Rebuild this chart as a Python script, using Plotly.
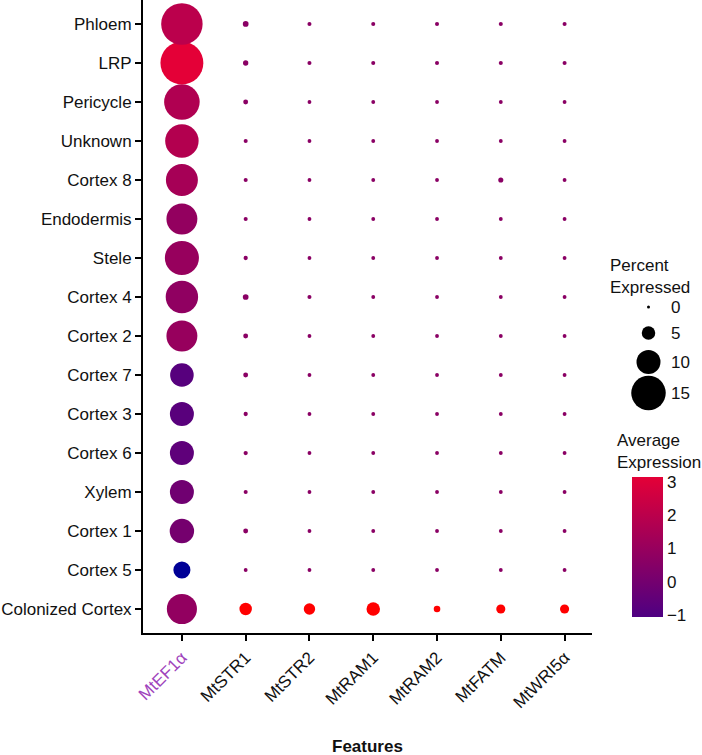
import plotly.graph_objects as go

# cell clusters, bottom to top
clusters = ["Colonized Cortex", "Cortex 5", "Cortex 1", "Xylem", "Cortex 6", "Cortex 3",
            "Cortex 7", "Cortex 2", "Cortex 4", "Stele", "Endodermis", "Cortex 8",
            "Unknown", "Pericycle", "LRP", "Phloem"]
genes = ["MtEF1α", "MtSTR1", "MtSTR2", "MtRAM1", "MtRAM2", "MtFATM", "MtWRI5α"]

# percent expressed, one row per cluster (same order as clusters)
pct_expressed = [
    [12.9, 4.5, 4.0, 5.0, 1.7, 2.9, 2.9],   # Colonized Cortex
    [6.7, 0.4, 0.4, 0.4, 0.4, 0.4, 0.4],    # Cortex 5
    [10.2, 0.9, 0.4, 0.4, 0.4, 0.4, 0.4],   # Cortex 1
    [10.0, 0.5, 0.4, 0.4, 0.4, 0.4, 0.4],   # Xylem
    [10.0, 0.6, 0.4, 0.4, 0.4, 0.4, 0.4],   # Cortex 6
    [10.0, 0.6, 0.4, 0.4, 0.4, 0.4, 0.4],   # Cortex 3
    [9.8, 0.9, 0.4, 0.4, 0.4, 0.4, 0.4],    # Cortex 7
    [13.3, 0.9, 0.4, 0.4, 0.4, 0.4, 0.4],   # Cortex 2
    [14.0, 1.3, 0.5, 0.4, 0.4, 0.4, 0.4],   # Cortex 4
    [14.8, 0.6, 0.4, 0.4, 0.4, 0.4, 0.4],   # Stele
    [13.3, 0.5, 0.4, 0.4, 0.4, 0.4, 0.4],   # Endodermis
    [13.8, 0.5, 0.4, 0.4, 0.4, 1.0, 0.4],   # Cortex 8
    [14.5, 0.5, 0.4, 0.4, 0.4, 0.4, 0.4],   # Unknown
    [15.5, 0.9, 0.4, 0.4, 0.4, 0.4, 0.4],   # Pericycle
    [19.0, 1.1, 0.5, 0.5, 0.5, 0.5, 0.5],   # LRP
    [18.3, 1.3, 0.5, 0.5, 0.5, 0.5, 0.5],   # Phloem
]

# average expression (values outside -1..3 fall off the colour bar)
avg_expression = [
    [0.8, 4.0, 4.0, 4.0, 4.0, 4.0, 4.0],
    [-2.0, 0.6, 0.6, 0.6, 0.6, 0.6, 0.6],
    [0.05, 0.6, 0.6, 0.6, 0.6, 0.6, 0.6],
    [-0.1, 0.6, 0.6, 0.6, 0.6, 0.6, 0.6],
    [-0.55, 0.6, 0.6, 0.6, 0.6, 0.6, 0.6],
    [-0.7, 0.6, 0.6, 0.6, 0.6, 0.6, 0.6],
    [-0.75, 0.6, 0.6, 0.6, 0.6, 0.6, 0.6],
    [0.95, 0.6, 0.6, 0.6, 0.6, 0.6, 0.6],
    [0.75, 0.6, 0.6, 0.6, 0.6, 0.6, 0.6],
    [0.95, 0.6, 0.6, 0.6, 0.6, 0.6, 0.6],
    [0.85, 0.6, 0.6, 0.6, 0.6, 0.6, 0.6],
    [1.35, 0.6, 0.6, 0.6, 0.6, 0.6, 0.6],
    [1.7, 0.6, 0.6, 0.6, 0.6, 0.6, 0.6],
    [1.6, 0.6, 0.6, 0.6, 0.6, 0.6, 0.6],
    [3.0, 0.6, 0.6, 0.6, 0.6, 0.6, 0.6],
    [1.9, 0.6, 0.6, 0.6, 0.6, 0.6, 0.6],
]

size_breaks = [0, 5, 10, 15]
color_ticks = [-1, 0, 1, 2, 3]

FONT = "Liberation Sans, Arial, sans-serif"
LOW, HIGH = "rgb(78,0,130)", "rgb(228,0,55)"


def dot_size(p):
    # radius-style size scale: diameter grows linearly with percent
    return 3 + 2.1 * p


xs, ys, sizes, cols = [], [], [], []
for i, cl in enumerate(clusters):
    for j, g in enumerate(genes):
        xs.append(g)
        ys.append(cl)
        sizes.append(dot_size(pct_expressed[i][j]))
        cols.append(avg_expression[i][j])

fig = go.Figure()

fig.add_trace(go.Scatter(
    x=xs, y=ys, mode="markers",
    marker=dict(size=sizes, color=cols, cmin=-2, cmax=4,
                colorscale=[[0, "rgb(0,0,150)"], [1 / 6, LOW], [5 / 6, HIGH], [1, "rgb(255,0,0)"]],
                line=dict(width=0), opacity=1),
    showlegend=False, hoverinfo="x+y", cliponaxis=False,
))

# colour bar only
fig.add_trace(go.Scatter(
    x=[None], y=[None], mode="markers", showlegend=False, hoverinfo="skip",
    marker=dict(color=[0], cmin=-1.06, cmax=3.15, colorscale=[[0, LOW], [1, HIGH]],
                showscale=True,
                colorbar=dict(x=(632 - 143) / 559, xanchor="left", xpad=0,
                              y=(633 - 477) / 633, yanchor="top", ypad=0,
                              len=140, lenmode="pixels", thickness=31,
                              outlinewidth=0, tickvals=color_ticks, ticks="",
                              tickfont=dict(family=FONT, size=17, color="#111"))),
))

# size legend
leg_y = [307, 333, 362, 393]
fig.add_trace(go.Scatter(
    x=[648.5] * len(size_breaks), y=leg_y, xaxis="x2", yaxis="y2", mode="markers",
    marker=dict(size=[dot_size(b) for b in size_breaks], color="black",
                opacity=1, line=dict(width=0)),
    showlegend=False, hoverinfo="skip", cliponaxis=False,
))
for b, yy in zip(size_breaks, leg_y):
    fig.add_annotation(x=669, y=yy, xref="x2", yref="y2", text=str(b), showarrow=False,
                       xanchor="left", font=dict(family=FONT, size=17, color="#111"))

fig.add_annotation(x=608, y=276, xref="x2", yref="y2", text="Percent<br>Expressed",
                   showarrow=False, xanchor="left", yanchor="middle", align="left",
                   font=dict(family=FONT, size=17, color="#111"))
fig.add_annotation(x=615, y=451, xref="x2", yref="y2", text="Average<br>Expression",
                   showarrow=False, xanchor="left", yanchor="middle", align="left",
                   font=dict(family=FONT, size=17, color="#111"))
fig.add_annotation(x=0.5, y=-113 / 633, xref="x domain", yref="paper", text="<b>Features</b>",
                   showarrow=False, yanchor="middle", font=dict(family=FONT, size=17, color="#111"))

tick_text = ['<span style="color:#a044bc">MtEF1α</span>'] + genes[1:]

fig.update_layout(
    width=702, height=755,
    margin=dict(l=143, r=0, t=0, b=122),
    plot_bgcolor="white", paper_bgcolor="white",
    font=dict(family=FONT, size=17, color="#111"),
    xaxis=dict(domain=[0, (592 - 143) / 559], type="category", categoryarray=genes,
               range=[-0.61, 6.43], tickvals=genes, ticktext=tick_text, tickangle=-45,
               showline=True, linecolor="black", linewidth=2, mirror=False,
               ticks="outside", ticklen=6, tickwidth=2, tickcolor="black",
               showgrid=False, zeroline=False),
    yaxis=dict(type="category", categoryarray=clusters, range=[-0.615, 15.615],
               showline=True, linecolor="black", linewidth=2,
               ticks="outside", ticklen=6, tickwidth=2, tickcolor="black",
               showgrid=False, zeroline=False),
    xaxis2=dict(domain=[(596 - 143) / 559, 1], range=[596, 702], visible=False, anchor="y2"),
    yaxis2=dict(domain=[0, 1], range=[633, 0], visible=False, anchor="x2"),
)

# page body has a default 8px margin; drop it so the figure sits at the window origin
fig.write_html("out.html", config={"displayModeBar": False},
               post_script="document.body.style.margin='0';")
